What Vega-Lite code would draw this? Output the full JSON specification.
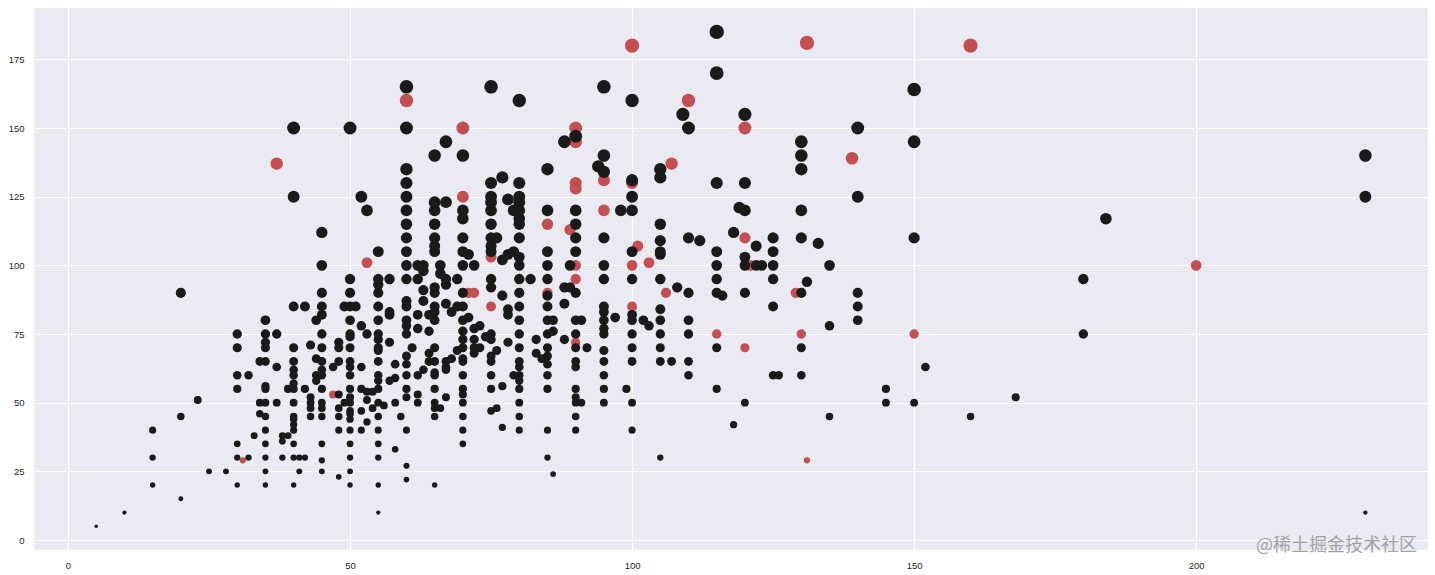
{"$schema":"https://vega.github.io/schema/vega-lite/v6.json","width":1394,"height":542,"autosize":"none","padding":{"left":34,"top":8,"right":7,"bottom":25},"background":"white","config":{"view":{"fill":"#EAEAF2","stroke":null},"axis":{"grid":true,"gridColor":"white","gridWidth":1.1,"domain":false,"ticks":false,"title":null,"labelFont":"Liberation Sans","labelFontSize":9.5,"labelColor":"#262626","labelPadding":10}},
"datasets":{"legendary":[{"atk":31,"def":29},{"atk":47,"def":53},{"atk":53,"def":101},{"atk":37,"def":137},{"atk":60,"def":160},{"atk":70,"def":150},{"atk":70,"def":125},{"atk":71,"def":90},{"atk":72,"def":90},{"atk":75,"def":85},{"atk":75,"def":103},{"atk":85,"def":90},{"atk":85,"def":115},{"atk":89,"def":113},{"atk":90,"def":100},{"atk":90,"def":95},{"atk":90,"def":72},{"atk":90,"def":150},{"atk":90,"def":145},{"atk":90,"def":130},{"atk":90,"def":128},{"atk":95,"def":131},{"atk":95,"def":120},{"atk":100,"def":180},{"atk":100,"def":130},{"atk":100,"def":100},{"atk":100,"def":85},{"atk":101,"def":107},{"atk":103,"def":101},{"atk":106,"def":90},{"atk":107,"def":137},{"atk":110,"def":160},{"atk":115,"def":75},{"atk":120,"def":150},{"atk":120,"def":110},{"atk":120,"def":70},{"atk":121,"def":100},{"atk":129,"def":90},{"atk":130,"def":75},{"atk":131,"def":181},{"atk":131,"def":29},{"atk":139,"def":139},{"atk":150,"def":75},{"atk":160,"def":180},{"atk":200,"def":100}],
"normal":[{"atk":5,"def":5},{"atk":10,"def":10},{"atk":15,"def":20},{"atk":15,"def":30},{"atk":15,"def":40},{"atk":20,"def":15},{"atk":20,"def":45},{"atk":20,"def":90},{"atk":23,"def":51},{"atk":25,"def":25},{"atk":28,"def":25},
{"atk":30,"def":20},{"atk":30,"def":30},{"atk":30,"def":35},{"atk":30,"def":55},{"atk":30,"def":60},{"atk":30,"def":70},{"atk":30,"def":75},{"atk":32,"def":30},{"atk":32,"def":60},{"atk":33,"def":38},{"atk":34,"def":46},{"atk":34,"def":50},{"atk":34,"def":65},
{"atk":35,"def":20},{"atk":35,"def":25},{"atk":35,"def":30},{"atk":35,"def":35},{"atk":35,"def":40},{"atk":35,"def":45},{"atk":35,"def":50},{"atk":35,"def":55},{"atk":35,"def":56},{"atk":35,"def":65},{"atk":35,"def":70},{"atk":35,"def":72},{"atk":35,"def":75},{"atk":35,"def":80},{"atk":37,"def":50},{"atk":37,"def":63},{"atk":37,"def":75},{"atk":38,"def":30},{"atk":38,"def":36},{"atk":38,"def":38},{"atk":39,"def":38},{"atk":39,"def":55},
{"atk":40,"def":20},{"atk":40,"def":30},{"atk":40,"def":35},{"atk":40,"def":40},{"atk":40,"def":42},{"atk":40,"def":44},{"atk":40,"def":45},{"atk":40,"def":50},{"atk":40,"def":55},{"atk":40,"def":57},{"atk":40,"def":60},{"atk":40,"def":62},{"atk":40,"def":65},{"atk":40,"def":70},{"atk":40,"def":85},{"atk":40,"def":125},{"atk":40,"def":150},{"atk":41,"def":25},{"atk":41,"def":30},{"atk":42,"def":30},{"atk":42,"def":55},{"atk":42,"def":85},{"atk":43,"def":45},{"atk":43,"def":48},{"atk":43,"def":50},{"atk":43,"def":52},{"atk":43,"def":71},{"atk":44,"def":58},{"atk":44,"def":60},{"atk":44,"def":66},{"atk":44,"def":80},
{"atk":45,"def":25},{"atk":45,"def":29},{"atk":45,"def":35},{"atk":45,"def":45},{"atk":45,"def":48},{"atk":45,"def":50},{"atk":45,"def":55},{"atk":45,"def":60},{"atk":45,"def":62},{"atk":45,"def":65},{"atk":45,"def":70},{"atk":45,"def":75},{"atk":45,"def":82},{"atk":45,"def":85},{"atk":45,"def":90},{"atk":45,"def":100},{"atk":45,"def":112},{"atk":47,"def":63},{"atk":48,"def":23},{"atk":48,"def":40},{"atk":48,"def":45},{"atk":48,"def":48},{"atk":48,"def":53},{"atk":48,"def":65},{"atk":48,"def":70},{"atk":48,"def":72},{"atk":49,"def":50},{"atk":49,"def":85},
{"atk":50,"def":20},{"atk":50,"def":25},{"atk":50,"def":30},{"atk":50,"def":35},{"atk":50,"def":40},{"atk":50,"def":44},{"atk":50,"def":46},{"atk":50,"def":47},{"atk":50,"def":50},{"atk":50,"def":52},{"atk":50,"def":55},{"atk":50,"def":60},{"atk":50,"def":63},{"atk":50,"def":65},{"atk":50,"def":70},{"atk":50,"def":74},{"atk":50,"def":75},{"atk":50,"def":80},{"atk":50,"def":85},{"atk":50,"def":90},{"atk":50,"def":95},{"atk":50,"def":150},{"atk":51,"def":85},{"atk":52,"def":40},{"atk":52,"def":47},{"atk":52,"def":55},{"atk":52,"def":63},{"atk":52,"def":78},{"atk":52,"def":125},{"atk":53,"def":43},{"atk":53,"def":51},{"atk":53,"def":54},{"atk":53,"def":75},{"atk":53,"def":120},{"atk":54,"def":48},{"atk":54,"def":54},
{"atk":55,"def":10},{"atk":55,"def":20},{"atk":55,"def":30},{"atk":55,"def":35},{"atk":55,"def":40},{"atk":55,"def":45},{"atk":55,"def":50},{"atk":55,"def":55},{"atk":55,"def":58},{"atk":55,"def":60},{"atk":55,"def":65},{"atk":55,"def":69},{"atk":55,"def":70},{"atk":55,"def":73},{"atk":55,"def":75},{"atk":55,"def":80},{"atk":55,"def":85},{"atk":55,"def":90},{"atk":55,"def":93},{"atk":55,"def":95},{"atk":55,"def":105},{"atk":56,"def":49},{"atk":57,"def":58},{"atk":57,"def":72},{"atk":57,"def":82},{"atk":57,"def":83},{"atk":57,"def":95},{"atk":58,"def":33},{"atk":58,"def":50},{"atk":58,"def":59},{"atk":58,"def":64},{"atk":59,"def":45},
{"atk":60,"def":22},{"atk":60,"def":27},{"atk":60,"def":40},{"atk":60,"def":52},{"atk":60,"def":55},{"atk":60,"def":60},{"atk":60,"def":64},{"atk":60,"def":67},{"atk":60,"def":75},{"atk":60,"def":78},{"atk":60,"def":80},{"atk":60,"def":85},{"atk":60,"def":87},{"atk":60,"def":95},{"atk":60,"def":100},{"atk":60,"def":105},{"atk":60,"def":110},{"atk":60,"def":115},{"atk":60,"def":120},{"atk":60,"def":125},{"atk":60,"def":130},{"atk":60,"def":135},{"atk":60,"def":150},{"atk":60,"def":165},{"atk":61,"def":70},{"atk":62,"def":50},{"atk":62,"def":53},{"atk":62,"def":60},{"atk":62,"def":77},{"atk":62,"def":82},{"atk":62,"def":95},{"atk":62,"def":100},{"atk":63,"def":62},{"atk":63,"def":87},{"atk":63,"def":91},{"atk":63,"def":98},{"atk":63,"def":100},{"atk":64,"def":65},{"atk":64,"def":68},{"atk":64,"def":76},{"atk":64,"def":82},
{"atk":65,"def":20},{"atk":65,"def":45},{"atk":65,"def":48},{"atk":65,"def":50},{"atk":65,"def":55},{"atk":65,"def":60},{"atk":65,"def":61},{"atk":65,"def":65},{"atk":65,"def":70},{"atk":65,"def":80},{"atk":65,"def":83},{"atk":65,"def":85},{"atk":65,"def":90},{"atk":65,"def":92},{"atk":65,"def":105},{"atk":65,"def":107},{"atk":65,"def":110},{"atk":65,"def":115},{"atk":65,"def":120},{"atk":65,"def":123},{"atk":65,"def":140},{"atk":66,"def":48},{"atk":66,"def":97},{"atk":66,"def":100},{"atk":67,"def":52},{"atk":67,"def":62},{"atk":67,"def":63},{"atk":67,"def":65},{"atk":67,"def":86},{"atk":67,"def":93},{"atk":67,"def":95},{"atk":67,"def":123},{"atk":67,"def":145},{"atk":68,"def":66},{"atk":68,"def":83},{"atk":69,"def":69},{"atk":69,"def":85},{"atk":69,"def":95},
{"atk":70,"def":35},{"atk":70,"def":40},{"atk":70,"def":45},{"atk":70,"def":50},{"atk":70,"def":53},{"atk":70,"def":55},{"atk":70,"def":60},{"atk":70,"def":65},{"atk":70,"def":66},{"atk":70,"def":70},{"atk":70,"def":73},{"atk":70,"def":76},{"atk":70,"def":80},{"atk":70,"def":85},{"atk":70,"def":90},{"atk":70,"def":100},{"atk":70,"def":105},{"atk":70,"def":110},{"atk":70,"def":117},{"atk":70,"def":120},{"atk":70,"def":140},{"atk":71,"def":81},{"atk":71,"def":104},{"atk":72,"def":68},{"atk":72,"def":70},{"atk":72,"def":73},{"atk":72,"def":77},{"atk":72,"def":100},{"atk":73,"def":70},{"atk":73,"def":78},{"atk":74,"def":74},
{"atk":75,"def":47},{"atk":75,"def":55},{"atk":75,"def":60},{"atk":75,"def":65},{"atk":75,"def":67},{"atk":75,"def":73},{"atk":75,"def":75},{"atk":75,"def":92},{"atk":75,"def":95},{"atk":75,"def":105},{"atk":75,"def":107},{"atk":75,"def":110},{"atk":75,"def":115},{"atk":75,"def":120},{"atk":75,"def":123},{"atk":75,"def":125},{"atk":75,"def":130},{"atk":75,"def":165},{"atk":76,"def":48},{"atk":76,"def":69},{"atk":76,"def":110},{"atk":77,"def":41},{"atk":77,"def":56},{"atk":77,"def":89},{"atk":77,"def":102},{"atk":77,"def":132},{"atk":78,"def":72},{"atk":78,"def":82},{"atk":78,"def":84},{"atk":78,"def":104},{"atk":78,"def":124},{"atk":79,"def":60},{"atk":79,"def":105},{"atk":79,"def":120},
{"atk":80,"def":40},{"atk":80,"def":45},{"atk":80,"def":50},{"atk":80,"def":55},{"atk":80,"def":58},{"atk":80,"def":60},{"atk":80,"def":63},{"atk":80,"def":65},{"atk":80,"def":70},{"atk":80,"def":75},{"atk":80,"def":80},{"atk":80,"def":85},{"atk":80,"def":90},{"atk":80,"def":95},{"atk":80,"def":100},{"atk":80,"def":103},{"atk":80,"def":110},{"atk":80,"def":115},{"atk":80,"def":117},{"atk":80,"def":120},{"atk":80,"def":123},{"atk":80,"def":125},{"atk":80,"def":130},{"atk":80,"def":160},{"atk":82,"def":95},{"atk":83,"def":68},{"atk":83,"def":73},{"atk":84,"def":66},
{"atk":85,"def":30},{"atk":85,"def":40},{"atk":85,"def":55},{"atk":85,"def":60},{"atk":85,"def":64},{"atk":85,"def":67},{"atk":85,"def":70},{"atk":85,"def":75},{"atk":85,"def":80},{"atk":85,"def":85},{"atk":85,"def":89},{"atk":85,"def":95},{"atk":85,"def":100},{"atk":85,"def":105},{"atk":85,"def":120},{"atk":85,"def":135},{"atk":86,"def":24},{"atk":86,"def":76},{"atk":86,"def":80},{"atk":88,"def":73},{"atk":88,"def":86},{"atk":88,"def":92},{"atk":88,"def":145},{"atk":89,"def":92},{"atk":89,"def":100},
{"atk":90,"def":40},{"atk":90,"def":45},{"atk":90,"def":50},{"atk":90,"def":52},{"atk":90,"def":55},{"atk":90,"def":63},{"atk":90,"def":65},{"atk":90,"def":70},{"atk":90,"def":75},{"atk":90,"def":80},{"atk":90,"def":90},{"atk":90,"def":105},{"atk":90,"def":110},{"atk":90,"def":115},{"atk":90,"def":120},{"atk":90,"def":147},{"atk":91,"def":50},{"atk":91,"def":80},{"atk":92,"def":70},{"atk":94,"def":136},
{"atk":95,"def":50},{"atk":95,"def":55},{"atk":95,"def":60},{"atk":95,"def":65},{"atk":95,"def":69},{"atk":95,"def":75},{"atk":95,"def":77},{"atk":95,"def":80},{"atk":95,"def":83},{"atk":95,"def":85},{"atk":95,"def":95},{"atk":95,"def":100},{"atk":95,"def":110},{"atk":95,"def":134},{"atk":95,"def":140},{"atk":95,"def":165},{"atk":97,"def":81},{"atk":98,"def":120},{"atk":99,"def":55},
{"atk":100,"def":40},{"atk":100,"def":50},{"atk":100,"def":65},{"atk":100,"def":70},{"atk":100,"def":75},{"atk":100,"def":80},{"atk":100,"def":82},{"atk":100,"def":95},{"atk":100,"def":105},{"atk":100,"def":120},{"atk":100,"def":125},{"atk":100,"def":131},{"atk":100,"def":160},{"atk":102,"def":80},{"atk":103,"def":78},
{"atk":105,"def":30},{"atk":105,"def":65},{"atk":105,"def":70},{"atk":105,"def":75},{"atk":105,"def":80},{"atk":105,"def":84},{"atk":105,"def":95},{"atk":105,"def":104},{"atk":105,"def":105},{"atk":105,"def":109},{"atk":105,"def":115},{"atk":105,"def":132},{"atk":105,"def":135},{"atk":107,"def":65},{"atk":108,"def":92},{"atk":109,"def":155},
{"atk":110,"def":60},{"atk":110,"def":65},{"atk":110,"def":75},{"atk":110,"def":80},{"atk":110,"def":90},{"atk":110,"def":110},{"atk":110,"def":150},{"atk":112,"def":109},{"atk":115,"def":55},{"atk":115,"def":70},{"atk":115,"def":90},{"atk":115,"def":95},{"atk":115,"def":100},{"atk":115,"def":105},{"atk":115,"def":130},{"atk":115,"def":170},{"atk":115,"def":185},{"atk":116,"def":89},{"atk":118,"def":42},{"atk":118,"def":112},{"atk":119,"def":121},
{"atk":120,"def":50},{"atk":120,"def":90},{"atk":120,"def":100},{"atk":120,"def":103},{"atk":120,"def":120},{"atk":120,"def":130},{"atk":120,"def":155},{"atk":122,"def":100},{"atk":122,"def":107},{"atk":123,"def":100},{"atk":125,"def":60},{"atk":125,"def":85},{"atk":125,"def":95},{"atk":125,"def":100},{"atk":125,"def":105},{"atk":125,"def":110},{"atk":126,"def":60},
{"atk":130,"def":60},{"atk":130,"def":70},{"atk":130,"def":90},{"atk":130,"def":110},{"atk":130,"def":120},{"atk":130,"def":135},{"atk":130,"def":140},{"atk":130,"def":145},{"atk":131,"def":94},{"atk":133,"def":108},{"atk":135,"def":45},{"atk":135,"def":78},{"atk":135,"def":100},{"atk":140,"def":80},{"atk":140,"def":85},{"atk":140,"def":90},{"atk":140,"def":125},{"atk":140,"def":150},{"atk":145,"def":50},{"atk":145,"def":55},{"atk":150,"def":50},{"atk":150,"def":110},{"atk":150,"def":145},{"atk":150,"def":164},{"atk":152,"def":63},{"atk":160,"def":45},{"atk":168,"def":52},{"atk":180,"def":75},{"atk":180,"def":95},{"atk":184,"def":117},{"atk":230,"def":10},{"atk":230,"def":125},{"atk":230,"def":140}],
"mark":[{"atk":210.6,"def":-2.2,"label":"@稀土掘金技术社区"}]},
"encoding":{"x":{"field":"atk","type":"quantitative","scale":{"domain":[-6.03,241.1],"nice":false,"zero":false},"axis":{"values":[0,50,100,150,200]}},"y":{"field":"def","type":"quantitative","scale":{"domain":[-3.64,193.7],"nice":false,"zero":false},"axis":{"values":[0,25,50,75,100,125,150,175]}}},
"layer":[
{"data":{"name":"legendary"},"mark":{"type":"point","shape":"circle","filled":true,"opacity":1,"color":"#C44E52"},"encoding":{"size":{"field":"def","type":"quantitative","scale":{"domain":[0,200],"range":[8,222]},"legend":null}}},
{"data":{"name":"normal"},"mark":{"type":"point","shape":"circle","filled":true,"opacity":1,"color":"#1A1A1A"},"encoding":{"size":{"field":"def","type":"quantitative","scale":{"domain":[0,200],"range":[8,222]},"legend":null}}},
{"data":{"name":"mark"},"mark":{"type":"text","align":"left","baseline":"middle","font":"Noto Sans CJK SC","fontSize":18,"color":"#8f8f8f","opacity":0.8,"clip":false},"encoding":{"text":{"field":"label","type":"nominal"}}}
]}
